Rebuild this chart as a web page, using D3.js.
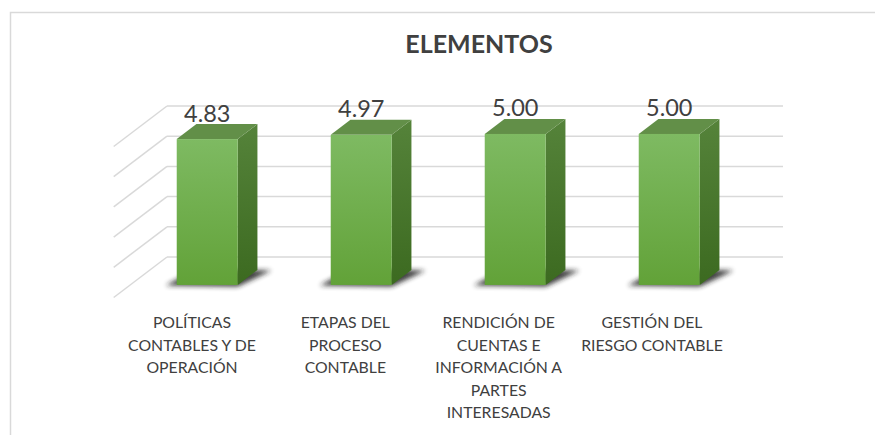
<!DOCTYPE html>
<html>
<head>
<meta charset="utf-8">
<script src="https://cdn.jsdelivr.net/npm/d3@7"></script>
<style>
  html, body { margin: 0; padding: 0; background: #fff; }
  svg { display: block; }
</style>
</head>
<body>
<div id="chart"></div>
<script>
const title = "ELEMENTOS";
const categories = [
  "POLÍTICAS CONTABLES Y DE OPERACIÓN",
  "ETAPAS DEL PROCESO CONTABLE",
  "RENDICIÓN DE CUENTAS E INFORMACIÓN A PARTES INTERESADAS",
  "GESTIÓN DEL RIESGO CONTABLE"
];
const categoryLines = [
  ["POLÍTICAS", "CONTABLES Y DE", "OPERACIÓN"],
  ["ETAPAS DEL", "PROCESO", "CONTABLE"],
  ["RENDICIÓN DE", "CUENTAS E", "INFORMACIÓN A", "PARTES", "INTERESADAS"],
  ["GESTIÓN DEL", "RIESGO CONTABLE"]
];
const values = [4.83, 4.97, 5.00, 5.00];
const gridTicks = [0, 1, 2, 3, 4, 5];

const W = 875, H = 435;
const FONT = "Lato, 'Open Sans', sans-serif";
const svg = d3.select("#chart").append("svg").attr("width", W).attr("height", H);

// chart border (extends beyond right/bottom)
svg.append("rect").attr("x", 10.5).attr("y", 12.5).attr("width", 1000).attr("height", 1000)
  .attr("fill", "none").attr("stroke", "#d9d9d9").attr("stroke-width", 1.5);

// title
svg.append("text").attr("x", 479).attr("y", 53).attr("text-anchor", "middle")
  .attr("font-family", FONT).attr("font-weight", "bold").attr("font-size", 25)
  .attr("fill", "#404040").text(title);

// scales (back wall plane)
const x = d3.scaleBand().domain(categories).range([167, 783]);
const y = d3.scaleLinear().domain([0, 5]).range([257, 106]);
const DX = -53.3, DY = 40.5;            // projection of full depth
const D0 = 0.32, D1 = 0.69;             // bar depth extent
const P = (xb, v, d) => [xb + DX * d, y(v) + DY * d];

const defs = svg.append("defs");
const gFront = defs.append("linearGradient").attr("id", "gFront").attr("x1", 0).attr("y1", 0).attr("x2", 0).attr("y2", 1);
gFront.append("stop").attr("offset", 0).attr("stop-color", "#7eba62");
gFront.append("stop").attr("offset", 1).attr("stop-color", "#62a238");
const gSide = defs.append("linearGradient").attr("id", "gSide").attr("x1", 0).attr("y1", 0).attr("x2", 0).attr("y2", 1);
gSide.append("stop").attr("offset", 0).attr("stop-color", "#55833a");
gSide.append("stop").attr("offset", 1).attr("stop-color", "#3c6a20");
const blur = defs.append("filter").attr("id", "blur").attr("x", "-50%").attr("y", "-50%").attr("width", "200%").attr("height", "200%");
blur.append("feGaussianBlur").attr("stdDeviation", 2.6);

// gridlines: back wall + side wall
const grid = svg.append("g").attr("stroke", "#d9d9d9").attr("stroke-width", 1.5).attr("fill", "none");
grid.selectAll("line.back").data(gridTicks).join("line").attr("class", "back")
  .attr("x1", x.range()[0]).attr("x2", x.range()[1])
  .attr("y1", d => y(d)).attr("y2", d => y(d));
grid.selectAll("line.side").data(gridTicks).join("line").attr("class", "side")
  .attr("x1", x.range()[0]).attr("y1", d => y(d))
  .attr("x2", d => P(x.range()[0], d, 1)[0]).attr("y2", d => P(x.range()[0], d, 1)[1]);

const data = categories.map((c, i) => ({ c, v: values[i], lines: categoryLines[i] }));
const half = x.bandwidth() * 0.198;
const poly = pts => "M" + pts.map(p => p.join(",")).join("L") + "Z";

const bars = svg.append("g").selectAll("g").data(data).join("g");
bars.each(function (d) {
  const g = d3.select(this);
  const cx = x(d.c) + x.bandwidth() / 2;
  const L = cx - half, R = cx + half;
  // shadow on floor
  const fl = P(L, 0, D1), fr = P(R, 0, D1), br = P(R, 0, D0), bl = P(L, 0, D0);
  g.append("path").attr("d", poly([[fl[0] - 11, fl[1] + 0.5], [fr[0], fr[1] + 1.5], [br[0] + 14, br[1] + 0.5], [bl[0], bl[1] - 1]]))
    .attr("fill", "#1f1f1f").attr("opacity", 0.85).attr("filter", "url(#blur)");
  // side face
  g.append("path").attr("d", poly([P(R, 0, D1), P(R, d.v, D1), P(R, d.v, D0), P(R, 0, D0)]))
    .attr("fill", "url(#gSide)");
  // top face
  g.append("path").attr("d", poly([P(L, d.v, D1), P(R, d.v, D1), P(R, d.v, D0), P(L, d.v, D0)]))
    .attr("fill", "#628f48");
  // front face
  const ft = P(L, d.v, D1), fb = P(R, 0, D1);
  g.append("rect").attr("x", ft[0]).attr("y", ft[1]).attr("width", fb[0] - ft[0]).attr("height", fb[1] - ft[1])
    .attr("fill", "url(#gFront)");
  // value label
  const lp = P(cx, d.v, D1);
  g.append("text").attr("x", lp[0]).attr("y", P(cx, d.v, D0)[1] - 2.5).attr("text-anchor", "middle")
    .attr("font-family", FONT).attr("font-size", 23.5).attr("fill", "#404040")
    .text(d3.format(".2f")(d.v));
});

// category labels
const xl = d3.scalePoint().domain(categories).range([192, 652]);
const labels = svg.append("g").selectAll("text").data(data).join("text")
  .attr("text-anchor", "middle").attr("font-family", FONT).attr("font-size", 15.8).attr("fill", "#404040");
labels.each(function (d) {
  const t = d3.select(this);
  d.lines.forEach((ln, j) => {
    t.append("tspan").attr("x", xl(d.c)).attr("y", 328 + j * 22.6).text(ln);
  });
});
</script>
</body>
</html>
